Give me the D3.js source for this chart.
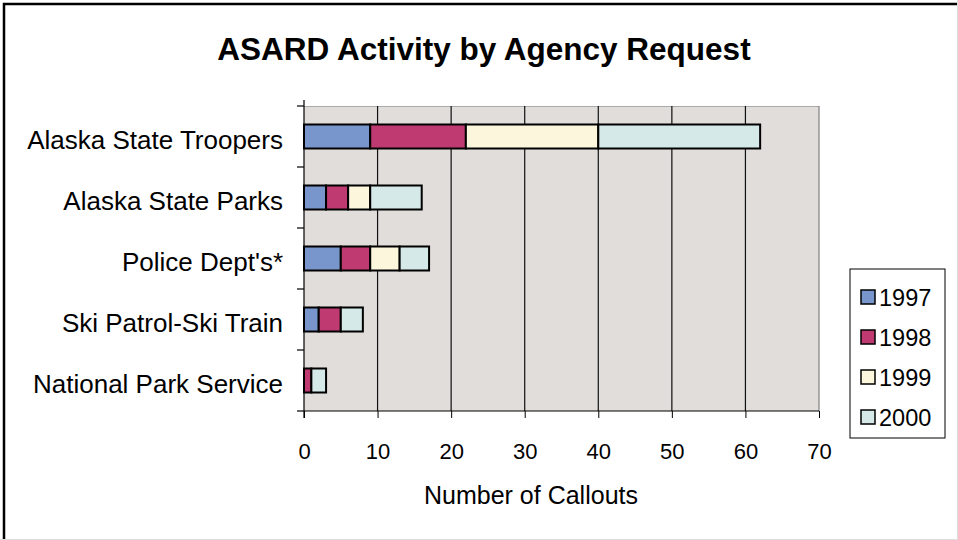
<!DOCTYPE html>
<html><head><meta charset="utf-8">
<script src="https://cdn.jsdelivr.net/npm/d3@7/dist/d3.min.js"></script>
<style>html,body{margin:0;padding:0;background:#fff;}svg{display:block;font-family:"Liberation Sans",Arial,sans-serif;}</style>
</head><body>
<svg id="c" width="958" height="540"></svg>
<script>
const categories = ["Alaska State Troopers","Alaska State Parks","Police Dept's*","Ski Patrol-Ski Train","National Park Service"];
const seriesNames = ["1997","1998","1999","2000"];
const v1997 = [9,3,5,2,0];
const v1998 = [13,3,4,3,1];
const v1999 = [18,3,4,0,0];
const v2000 = [22,7,4,3,2];
const colors = ["#7896CB","#BE3A70","#FCF7DC","#D5E9E8"];
const xTicks = [0,10,20,30,40,50,60,70];

const svg = d3.select("#c");
// outer frame
svg.append("rect").attr("x",4).attr("y",4).attr("width",960).attr("height",540).attr("fill","#fff").attr("stroke","#000").attr("stroke-width",2.5);
svg.append("line").attr("x1",0).attr("x2",958).attr("y1",539.5).attr("y2",539.5).attr("stroke","#ddd");
svg.append("line").attr("x1",957.5).attr("x2",957.5).attr("y1",0).attr("y2",540).attr("stroke","#ddd");

const L=304, R=819, T=106, B=411;
const x = d3.scaleLinear().domain([0,70]).range([L,R]);
const y = d3.scaleBand().domain(categories).range([T,B]);

svg.append("text").attr("x",484).attr("y",60).attr("text-anchor","middle")
  .attr("font-size",31.5).attr("font-weight","bold").text("ASARD Activity by Agency Request");

svg.append("rect").attr("x",L).attr("y",T).attr("width",R-L).attr("height",B-T).attr("fill","#E0DDDB");
svg.append("line").attr("x1",L).attr("x2",R).attr("y1",T+0.5).attr("y2",T+0.5).attr("stroke","#aaa");

// grid
svg.append("g").selectAll("line").data(xTicks.slice(1)).join("line")
  .attr("x1",d=>x(d)).attr("x2",d=>x(d)).attr("y1",T).attr("y2",B)
  .attr("stroke",d=>d===70?"#808080":"#111").attr("stroke-width",1.2);

// stacked bars
const vals = [v1997,v1998,v1999,v2000];
const rows = categories.map((c,i)=>{const o={cat:c}; seriesNames.forEach((s,j)=>o[s]=vals[j][i]); return o;});
const stack = d3.stack().keys(seriesNames)(rows);
const bh = 24;
stack.forEach((layer,j)=>{
  svg.append("g").selectAll("rect").data(layer.filter(d=>d[1]-d[0]>0)).join("rect")
    .attr("x",d=>x(d[0])).attr("width",d=>x(d[1])-x(d[0]))
    .attr("y",d=>y(d.data.cat)+(y.bandwidth()-bh)/2).attr("height",bh)
    .attr("fill",colors[j]).attr("stroke","#000").attr("stroke-width",2);
});

// axes
const xa = svg.append("g").attr("transform",`translate(0,${B})`)
  .call(d3.axisBottom(x).tickValues(xTicks).tickSize(7));
xa.select(".domain").attr("stroke","#000").attr("stroke-width",1.2).attr("d",`M${L},0H${R}`);
xa.selectAll(".tick line").attr("stroke","#000");
xa.selectAll("text").attr("font-size",22).attr("fill","#000").attr("dy",null).attr("y",48)
  .attr("font-family","Liberation Sans, Arial, sans-serif");

const boundaries = d3.range(categories.length+1).map(i=>T+i*y.step());
svg.append("line").attr("x1",L).attr("x2",L).attr("y1",T-6).attr("y2",B+7).attr("stroke","#000").attr("stroke-width",1.2);
svg.append("g").selectAll("line").data(boundaries).join("line")
  .attr("x1",L-7).attr("x2",L).attr("y1",d=>d).attr("y2",d=>d).attr("stroke","#000").attr("stroke-width",1.2);
svg.append("g").selectAll("text").data(categories).join("text")
  .attr("x",283).attr("y",d=>y(d)+y.bandwidth()/2+12.5).attr("text-anchor","end")
  .attr("font-size",26).text(d=>d);

svg.append("text").attr("x",531).attr("y",504).attr("text-anchor","middle").attr("font-size",25).text("Number of Callouts");

// legend
const lg = svg.append("g");
lg.append("rect").attr("x",850).attr("y",269).attr("width",95).attr("height",169).attr("fill","#fff").attr("stroke","#000").attr("stroke-width",1);
seriesNames.forEach((s,j)=>{
  const cy = 297+j*40;
  lg.append("rect").attr("x",861).attr("y",cy-7).attr("width",14).attr("height",14).attr("fill",colors[j]).attr("stroke","#000").attr("stroke-width",1.5);
  lg.append("text").attr("x",879).attr("y",cy+8.5).attr("font-size",23.5).text(s);
});
</script>
</body></html>
